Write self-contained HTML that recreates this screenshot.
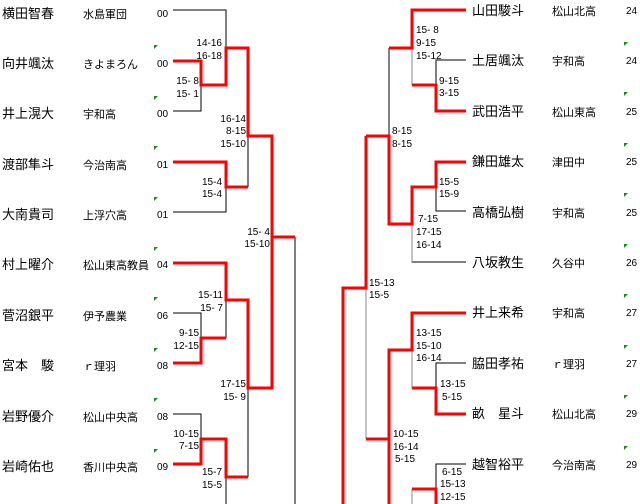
<!DOCTYPE html>
<html><head><meta charset="utf-8"><style>
html,body{margin:0;padding:0;background:#fff;width:640px;height:504px;overflow:hidden}
svg{display:block}
.n{font:13px "Liberation Sans","Noto Sans CJK JP",sans-serif;fill:#000}
.s{font:11px "Liberation Sans","Noto Sans CJK JP",sans-serif;fill:#000}
.c{font:10px "Liberation Sans",sans-serif;fill:#000}
.r{stroke:#f00;stroke-width:3;fill:none}
.b{stroke:#000;stroke-width:1;fill:none}
.g{stroke:#888;stroke-width:1;fill:none}
</style></head><body>
<svg width="640" height="504" xmlns="http://www.w3.org/2000/svg">
<g class="n">
<text x="2" y="18">横田智春</text><text x="2" y="68">向井颯汰</text><text x="2" y="118">井上滉大</text><text x="2" y="169">渡部隼斗</text><text x="2" y="219">大南貴司</text><text x="2" y="269">村上曜介</text><text x="2" y="320">菅沼銀平</text><text x="2" y="370">宮本　駿</text><text x="2" y="421">岩野優介</text><text x="2" y="471">岩崎佑也</text>
<text x="472" y="15">山田駿斗</text><text x="472" y="65">土居颯汰</text><text x="472" y="116">武田浩平</text><text x="472" y="166">鎌田雄太</text><text x="472" y="217">高橋弘樹</text><text x="472" y="267">八坂教生</text><text x="472" y="317">井上来希</text><text x="472" y="368">脇田孝祐</text><text x="472" y="418">畝　星斗</text><text x="472" y="469">越智裕平</text>
</g>
<g class="s">
<text x="83" y="18">水島軍団</text><text x="83" y="68">きよまろん</text><text x="83" y="118">宇和高</text><text x="83" y="169">今治南高</text><text x="83" y="219">上浮穴高</text><text x="83" y="269">松山東高教員</text><text x="83" y="320">伊予農業</text><text x="83" y="370">ｒ理羽</text><text x="83" y="421">松山中央高</text><text x="83" y="471">香川中央高</text>
<text x="552" y="15">松山北高</text><text x="552" y="65">宇和高</text><text x="552" y="116">松山東高</text><text x="552" y="166">津田中</text><text x="552" y="217">宇和高</text><text x="552" y="267">久谷中</text><text x="552" y="317">宇和高</text><text x="552" y="368">ｒ理羽</text><text x="552" y="418">松山北高</text><text x="552" y="469">今治南高</text>
</g>
<g class="c">
<text x="157" y="17">00</text><text x="157" y="67">00</text><text x="157" y="117">00</text><text x="157" y="168">01</text><text x="157" y="218">01</text><text x="157" y="268">04</text><text x="157" y="319">06</text><text x="157" y="369">08</text><text x="157" y="420">08</text><text x="157" y="470">09</text>
<text x="626" y="14">24</text><text x="626" y="64">24</text><text x="626" y="115">25</text><text x="626" y="165">25</text><text x="626" y="216">25</text><text x="626" y="266">26</text><text x="626" y="316">27</text><text x="626" y="367">27</text><text x="626" y="417">29</text><text x="626" y="468">29</text>
</g>
<g fill="#1a8a1a">
<path d="M154,45h4l-4,4z"/><path d="M154,96h4l-4,4z"/><path d="M154,146h4l-4,4z"/><path d="M154,197h4l-4,4z"/><path d="M154,247h4l-4,4z"/><path d="M154,297h4l-4,4z"/><path d="M154,348h4l-4,4z"/><path d="M154,398h4l-4,4z"/><path d="M154,449h4l-4,4z"/>
<path d="M624,42h4l-4,4z"/><path d="M624,92h4l-4,4z"/><path d="M624,143h4l-4,4z"/><path d="M624,193h4l-4,4z"/><path d="M624,244h4l-4,4z"/><path d="M624,294h4l-4,4z"/><path d="M624,345h4l-4,4z"/><path d="M624,395h4l-4,4z"/><path d="M624,446h4l-4,4z"/>
</g>
<g class="c" text-anchor="end">
<text x="222" y="46">14-16</text><text x="222" y="59">16-18</text>
<text x="199" y="84">15- 8</text><text x="199" y="97">15- 1</text>
<text x="246" y="122">16-14</text><text x="246" y="134">8-15</text><text x="246" y="147">15-10</text>
<text x="222" y="185">15-4</text><text x="222" y="197">15-4</text>
<text x="270" y="235">15- 4</text><text x="270" y="247">15-10</text>
<text x="223" y="298">15-11</text><text x="223" y="311">15- 7</text>
<text x="199" y="336">9-15</text><text x="199" y="349">12-15</text>
<text x="246" y="387">17-15</text><text x="246" y="400">15- 9</text>
<text x="199" y="437">10-15</text><text x="199" y="449">7-15</text>
<text x="222" y="475">15-7</text><text x="222" y="488">15-5</text>
</g>
<g class="c">
<text x="416" y="33">15- 8</text><text x="416" y="46">9-15</text><text x="416" y="59">15-12</text>
<text x="439" y="84">9-15</text><text x="439" y="96">3-15</text>
<text x="392" y="134">8-15</text><text x="392" y="147">8-15</text>
<text x="439" y="185">15-5</text><text x="439" y="197">15-9</text>
<text x="418" y="222">7-15</text><text x="416" y="235">17-15</text><text x="416" y="248">16-14</text>
<text x="369" y="286">15-13</text><text x="369" y="298">15-5</text>
<text x="416" y="336">13-15</text><text x="416" y="349">15-10</text><text x="416" y="361">16-14</text>
<text x="440" y="387">13-15</text><text x="442" y="400">5-15</text>
<text x="393" y="437">10-15</text><text x="393" y="450">16-14</text><text x="395" y="462">5-15</text>
<text x="442" y="475">6-15</text><text x="440" y="487">15-13</text><text x="440" y="500">12-15</text>
</g>
<!-- left black -->
<path class="b" d="M173,10H226V48 M173,111H201V85 M248,136V187 M173,212H226V187 M173,313H201V338 M226,338V300 M248,388V477 M173,414H201V439 M226,477V504 M295,237V504"/>
<!-- left red -->
<path class="r" d="M173,61H201V85H226V48H248V136H272V237H295 M173,162H226V187H248 M173,263H226V300H248V388H272V237 M173,363H201V338H226 M173,464H201V439H226V477H248"/>
<!-- right black/gray -->
<path class="b" d="M466,60H436V85 M389,48V136 M466,211H436V187 M466,262H412V224 M466,363H436V388 M466,464H436V489"/>
<path class="g" d="M412,48V85 M412,224V262 M366,288V439 M412,350V388 M412,489V504"/>
<!-- right red -->
<path class="r" d="M466,10H412V48H389 M412,85H436V111H466 M366,136H389V224H412V187H436V162H466 M366,136V288H343V504 M366,439H389V350H412V313H466 M412,388H436V414H466 M389,350V504 M412,489H436V504"/>
</svg>
</body></html>
